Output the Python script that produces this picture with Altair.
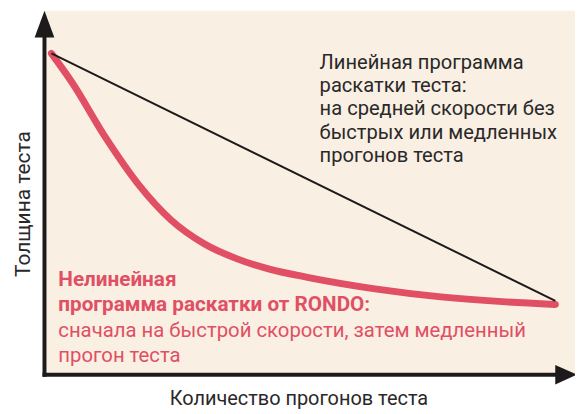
import altair as alt
import pandas as pd

# --- data (arbitrary units 0..100) ---
runs_rondo = [1.3, 5.2, 11.5, 17.7, 23.8, 30.1, 36.2, 42.4, 49.8, 62.3, 74.7, 87.0, 96.3]
thick_rondo = [88.3, 80.3, 65.2, 52.3, 42.6, 36.0, 31.9, 29.0, 26.7, 23.6, 21.4, 20.0, 19.3]
runs_linear = [1.3, 96.3]
thick_linear = [88.3, 20.3]

text_linear = ["Линейная программа", "раскатки теста:", "на средней скорости без",
               "быстрых или медленных", "прогонов теста"]
text_rondo_bold = ["Нелинейная", "программа раскатки от RONDO:"]
text_rondo_reg = ["сначала на быстрой скорости, затем медленный", "прогон теста"]
x_title = "Количество прогонов теста"
y_title = "Толщина теста"

W, H = 538, 369
RED = "#e04f63"
BLACK = "#1c1a1b"
BEIGE = "#f9f0e3"
TXT = "#2a2829"
FONT = "Roboto"

df_rondo = pd.DataFrame({"runs": runs_rondo, "thick": thick_rondo})
df_lin = pd.DataFrame({"runs": runs_linear, "thick": thick_linear})
one = pd.DataFrame({"a": [0]})

xs = alt.Scale(domain=[0, 100], nice=False, zero=False)
ys = alt.Scale(domain=[0, 100], nice=False, zero=False)

lin = alt.Chart(df_lin).mark_line(color=BLACK, strokeWidth=2).encode(
    x=alt.X("runs:Q", scale=xs, axis=None),
    y=alt.Y("thick:Q", scale=ys, axis=None),
)
rondo = alt.Chart(df_rondo).mark_line(
    color=RED, strokeWidth=7, strokeCap="round", strokeJoin="round", interpolate="monotone"
).encode(
    x=alt.X("runs:Q", scale=xs, axis=None),
    y=alt.Y("thick:Q", scale=ys, axis=None),
)

yaxis = alt.Chart(one).mark_rule(color=BLACK, strokeWidth=4).encode(
    x=alt.value(0), y=alt.value(20), y2=alt.value(H + 2)
)
xaxis = alt.Chart(one).mark_rule(color=BLACK, strokeWidth=4).encode(
    x=alt.value(-2), x2=alt.value(W - 15), y=alt.value(H)
)
up_arrow = alt.Chart(one).mark_point(
    shape="M-0.74,1L0,-1L0.74,1Z", filled=True, opacity=1, color=BLACK, size=729, strokeWidth=0
).encode(x=alt.value(0), y=alt.value(13.5))
right_arrow = alt.Chart(one).mark_point(
    shape="M-1,-0.9L1,0L-1,0.9Z", filled=True, opacity=1, color=BLACK, size=484, strokeWidth=0
).encode(x=alt.value(W - 9), y=alt.value(H))

t_lin = alt.Chart(one).mark_text(
    align="left", baseline="alphabetic", font=FONT, fontSize=20.4, lineHeight=23.7, color=TXT
).encode(x=alt.value(279), y=alt.value(58.7), text=alt.value(text_linear))

t_bold = alt.Chart(one).mark_text(
    align="left", baseline="alphabetic", font=FONT, fontSize=21, fontWeight="bold",
    lineHeight=25.5, color=RED
).encode(x=alt.value(14), y=alt.value(278.7), text=alt.value(text_rondo_bold))

t_reg = alt.Chart(one).mark_text(
    align="left", baseline="alphabetic", font=FONT, fontSize=20.6,
    lineHeight=25.5, color=RED
).encode(x=alt.value(14), y=alt.value(330.3), text=alt.value(text_rondo_reg))

t_x = alt.Chart(one).mark_text(
    align="center", baseline="alphabetic", font=FONT, fontSize=20.2, color=TXT
).encode(x=alt.value(258), y=alt.value(H + 31), text=alt.value(x_title))

t_y = alt.Chart(one).mark_text(
    align="center", baseline="alphabetic", font=FONT, fontSize=21.2, color=TXT, angle=270
).encode(x=alt.value(-15), y=alt.value(196), text=alt.value(y_title))

chart = alt.layer(
    rondo, lin, yaxis, xaxis, up_arrow, right_arrow, t_lin, t_bold, t_reg, t_x, t_y
).properties(
    width=W, height=H,
    autosize=alt.AutoSizeParams(type="none"),
    padding={"left": 37, "top": 0, "right": 0, "bottom": 37},
    background="white",
).configure_view(fill=BEIGE, stroke=None)

chart.save("out.html", embed_options={"renderer": "svg", "actions": False})
